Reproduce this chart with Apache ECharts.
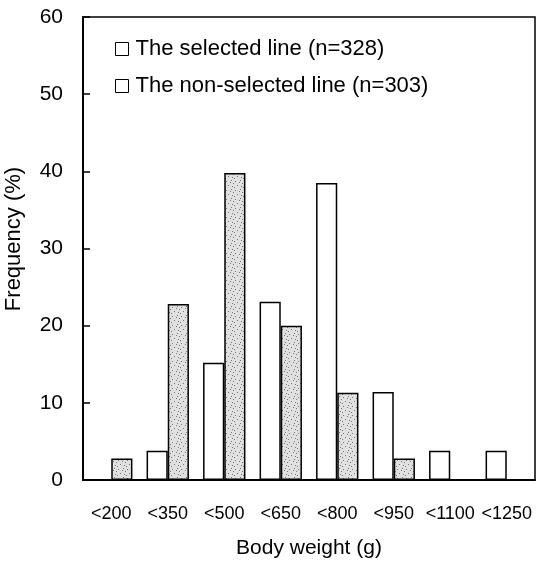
<!DOCTYPE html>
<html>
<head>
<meta charset="utf-8">
<script src="https://cdn.jsdelivr.net/npm/echarts@6/dist/echarts.min.js"></script>
<style>
  html, body { margin: 0; padding: 0; background: #fff; }
  #chart { width: 536px; height: 561px; }
</style>
</head>
<body>
<div id="chart"></div>
<script>
// 体重分组
const categories = ['<200', '<350', '<500', '<650', '<800', '<950', '<1100', '<1250'];
const selectedLine = [0, 3.8, 15.2, 23.1, 38.5, 11.4, 3.8, 3.8];
const nonSelectedLine = [2.8, 22.8, 39.8, 20.0, 11.3, 2.8, 0, 0];
const yTicks = [0, 10, 20, 30, 40, 50, 60];

// 点状填充纹理
function makeStipple() {
    const c = document.createElement('canvas');
    c.width = 9; c.height = 9;
    const ctx = c.getContext('2d');
    ctx.fillStyle = '#e0e0e0';
    ctx.fillRect(0, 0, 9, 9);
    ctx.fillStyle = '#7a7a7a';
    const dots = [[1, 1], [5, 2], [3, 5], [7, 6], [0, 7], [6, 0], [8, 3]];
    dots.forEach(d => ctx.fillRect(d[0], d[1], 1, 1));
    return c;
}

const font = '"Liberation Sans", Arial, sans-serif';
const chart = echarts.init(document.getElementById('chart'));

const option = {
    animation: false,
    textStyle: { fontFamily: font },
    grid: {
        left: 83, right: 1, top: 17, bottom: 81,
        outerBoundsMode: 'none',
        containLabel: false,
        show: true, borderColor: '#000', borderWidth: 1.5, backgroundColor: 'transparent'
    },
    graphic: [{
        type: 'text',
        x: 14, y: 239,
        rotation: Math.PI / 2,
        style: {
            text: 'Frequency (%)',
            font: '22px ' + font,
            fill: '#000',
            align: 'center',
            verticalAlign: 'middle'
        }
    }],
    legend: {
        orient: 'vertical',
        left: 110, top: 33,
        itemWidth: 13, itemHeight: 13, itemGap: 15,
        icon: 'rect',
        textStyle: { fontSize: 22, color: '#000', fontFamily: font, padding: [0, 0, 0, 2] },
        data: [
            { name: 'The selected line (n=328)', itemStyle: { color: '#fff', borderColor: '#000', borderWidth: 1 } },
            { name: 'The non-selected line (n=303)', itemStyle: { color: '#fff', borderColor: '#000', borderWidth: 1 } }
        ]
    },
    xAxis: {
        type: 'category',
        data: categories,
        name: 'Body weight (g)',
        nameLocation: 'middle',
        nameGap: 58,
        nameTextStyle: { fontSize: 21, color: '#000' },
        axisLine: { lineStyle: { color: '#000', width: 2 } },
        axisTick: { show: false },
        axisLabel: { fontSize: 18, color: '#000', margin: 25, interval: 0 }
    },
    yAxis: {
        type: 'value',
        min: yTicks[0], max: yTicks[yTicks.length - 1], interval: 10,
        axisLine: { show: true, lineStyle: { color: '#000', width: 2 } },
        axisTick: { show: true, inside: true, length: 7, lineStyle: { color: '#000', width: 1.5 } },
        axisLabel: { fontSize: 21, color: '#000', margin: 20 },
        splitLine: { show: false }
    },
    series: [
        {
            name: 'The selected line (n=328)',
            type: 'bar',
            data: selectedLine,
            barGap: '0%',
            barCategoryGap: '25%',
            itemStyle: { color: '#fff', borderColor: '#000', borderWidth: 1.5 }
        },
        {
            name: 'The non-selected line (n=303)',
            type: 'bar',
            data: nonSelectedLine,
            itemStyle: {
                color: { image: makeStipple(), repeat: 'repeat' },
                borderColor: '#000', borderWidth: 1.5
            }
        }
    ]
};

chart.setOption(option);
</script>
</body>
</html>
